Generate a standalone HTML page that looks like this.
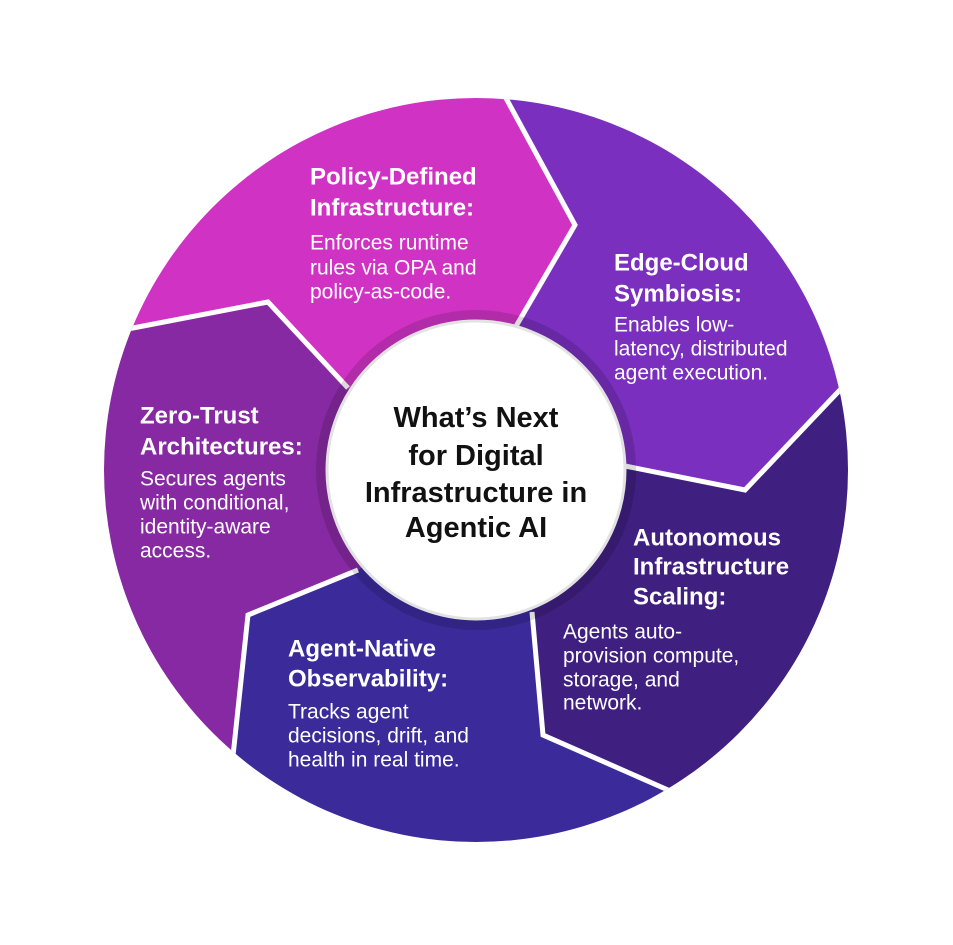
<!DOCTYPE html>
<html><head><meta charset="utf-8"><style>
html,body{margin:0;padding:0;background:#fff;width:953px;height:945px;overflow:hidden;}
svg{display:block;}
text{font-family:"Liberation Sans",Arial,sans-serif;}
.t{font-weight:bold;font-size:24px;fill:#fff;}
.b{font-size:21px;fill:#fff;}
.c{font-weight:bold;font-size:29px;fill:#111;}
</style></head><body>
<svg width="953" height="945" viewBox="0 0 953 945" xmlns="http://www.w3.org/2000/svg">
<defs><clipPath id="cp"><circle cx="476" cy="470" r="372"/></clipPath></defs>
<g clip-path="url(#cp)">
<polygon fill="#d033c4" points="476,470 348,388 268,302 133,328 -210,186 -200,-300 538,-270 507,100 575,225 515,328"/>
<polygon fill="#7a2fbf" points="476,470 515,328 575,225 507,100 538,-270 1200,-270 1200,314 838,392 745,490 625,466"/>
<polygon fill="#3f1f80" points="476,470 625,466 745,490 838,392 1200,314 1200,1110 860,1110 668,790 543,735 532,612"/>
<polygon fill="#3a2a9a" points="476,470 532,612 543,735 668,790 860,1110 -10,1042 233,756 248,615 358,570"/>
<polygon fill="#8729a2" points="476,470 358,570 248,615 233,756 -10,1042 -210,1042 -210,186 133,328 268,302 348,388"/>
<g fill="none" stroke="#fff" stroke-width="5" stroke-linejoin="miter">
<polyline points="515,328 575,225 507,100 480,50"/>
<polyline points="625,466 745,490 838,392 880,348"/>
<polyline points="532,612 543,735 668,790 720,814"/>
<polyline points="358,570 248,615 233,756 228,810"/>
<polyline points="348,388 268,302 133,328 80,338"/>
</g>
</g>
<circle cx="476" cy="470" r="160" fill="rgba(0,0,0,0.14)"/>
<circle cx="476" cy="470" r="149" fill="#fff" stroke="#e2e2e2" stroke-width="3"/>
<g dominant-baseline="central">
<text class="t" x="310" y="177">Policy-Defined</text>
<text class="t" x="310" y="208">Infrastructure:</text>
<text class="b" x="310" y="243">Enforces runtime</text>
<text class="b" x="310" y="268">rules via OPA and</text>
<text class="b" x="310" y="292">policy-as-code.</text>

<text class="t" x="614" y="263">Edge-Cloud</text>
<text class="t" x="614" y="294">Symbiosis:</text>
<text class="b" x="614" y="325">Enables low-</text>
<text class="b" x="614" y="349">latency, distributed</text>
<text class="b" x="614" y="373">agent execution.</text>

<text class="t" x="140" y="416">Zero-Trust</text>
<text class="t" x="140" y="447">Architectures:</text>
<text class="b" x="140" y="479">Secures agents</text>
<text class="b" x="140" y="503">with conditional,</text>
<text class="b" x="140" y="527">identity-aware</text>
<text class="b" x="140" y="551">access.</text>

<text class="t" x="633" y="538">Autonomous</text>
<text class="t" x="633" y="567">Infrastructure</text>
<text class="t" x="633" y="597">Scaling:</text>
<text class="b" x="563" y="632">Agents auto-</text>
<text class="b" x="563" y="656">provision compute,</text>
<text class="b" x="563" y="680">storage, and</text>
<text class="b" x="563" y="703">network.</text>

<text class="t" x="288" y="649">Agent-Native</text>
<text class="t" x="288" y="679">Observability:</text>
<text class="b" x="288" y="712">Tracks agent</text>
<text class="b" x="288" y="736">decisions, drift, and</text>
<text class="b" x="288" y="760">health in real time.</text>

<g text-anchor="middle">
<text class="c" x="476" y="418">What’s Next</text>
<text class="c" x="476" y="456">for Digital</text>
<text class="c" x="476" y="493">Infrastructure in</text>
<text class="c" x="476" y="528">Agentic AI</text>
</g>
</g>
</svg>
</body></html>
